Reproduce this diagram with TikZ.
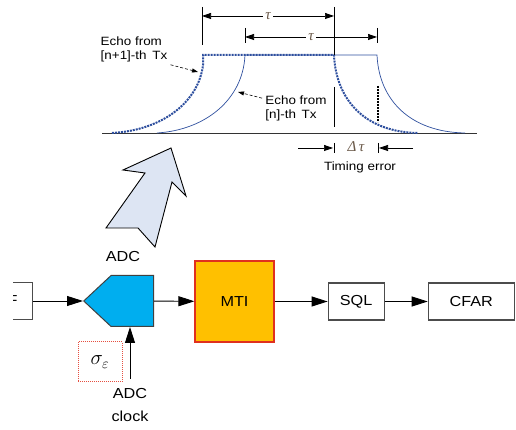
\documentclass[tikz,border=0pt]{standalone}
\usepackage{fontspec}
\setmainfont{Liberation Sans}[FakeStretch=1.12]
\newfontfamily\greekfont{Liberation Serif}
\usetikzlibrary{positioning,shapes.symbols,arrows.meta,calc}

\definecolor{adcblue}{HTML}{00AEEF}
\definecolor{mtifill}{HTML}{FFC000}
\definecolor{mtiline}{HTML}{E0301E}
\definecolor{echoblue}{HTML}{2E4F9E}
\definecolor{bigarrow}{HTML}{DDE5F3}
\definecolor{taucol}{HTML}{6B5A4A}

\begin{document}
\begin{tikzpicture}[
    x=1pt, y=1pt,
    font=\fontsize{14.5}{17}\selectfont,
    >={Triangle[length=16pt,width=10pt]},
    block/.style    = {rectangle, draw=black!70, line width=1.1pt,
                       minimum height=37pt, inner sep=2pt},
    adcbox/.style   = {signal, signal to=west, signal pointer angle=86,
                       draw=black!75, line width=1pt, fill=adcblue,
                       minimum width=70pt, minimum height=51pt, inner sep=0pt},
    mtibox/.style   = {rectangle, draw=mtiline, line width=1.2pt, fill=mtifill,
                       minimum width=79pt, minimum height=81pt},
    noisebox/.style = {rectangle, draw=mtiline!85, dash pattern=on 1pt off 1pt,
                       line width=1pt, minimum width=44pt, minimum height=40pt},
    flow/.style     = {-{Triangle[length=16pt,width=10pt]}, line width=0.9pt},
    echo/.style     = {font=\fontsize{12}{14}\selectfont, align=left, inner sep=1pt},
    pointer/.style  = {-{Triangle[length=6pt,width=4pt]}, densely dashed, line width=0.6pt},
    dim/.style      = {{Triangle[length=9pt,width=6pt]}-{Triangle[length=9pt,width=6pt]},
                       line width=0.7pt},
    ext/.style      = {line width=0.8pt},
    tau/.style      = {fill=white, text=taucol, inner sep=2pt,
                       font=\greekfont\itshape\fontsize{15}{15}\selectfont},
    pulsenew/.style = {echoblue, line width=2pt, densely dotted},
    pulseold/.style = {echoblue, line width=0.7pt}
]
\useasboundingbox (0,0) rectangle (516,430);

% --- Timing picture ------------------------------------------------------------
\coordinate (axl) at (102,297);
\coordinate (axr) at (477,297);
\draw[black!80, line width=0.9pt] (axl) -- (axr);

% echo of the [n]-th pulse
\draw[pulseold] (157,297) .. controls (205,300) and (243,330) .. (245,375)
                -- (377,375) .. controls (379,330) and (410,298) .. (465,297);
% echo of the [n+1]-th pulse
\draw[pulsenew] (112,297) .. controls (165,300) and (199,330) .. (203,365)
                -- (203,375) -- (334,375) .. controls (336,330) and (365,298) .. (418,297);

% extension lines
\coordinate (e1t) at (202,423);  \coordinate (e1b) at (202,385);
\coordinate (e2t) at (334,423);  \coordinate (e2b) at (334,375);
\coordinate (e3t) at (245,402);  \coordinate (e3b) at (245,387);
\coordinate (e4t) at (377,402);  \coordinate (e4b) at (377,387);
\draw[ext] (e1t) -- (e1b);
\draw[ext] (e2t) -- (e2b);
\draw[ext] (e3t) -- (e3b);
\draw[ext] (e4t) -- (e4b);

\draw[dim] (202,414) -- node[tau]{τ} (334,414);
\draw[dim] (245,393) -- node[tau]{τ} (377,393);

% timing error marks
\coordinate (m1t) at (334,343);  \coordinate (m1b) at (334,303);
\coordinate (m2t) at (378,344);  \coordinate (m2b) at (378,308);
\draw[ext] (m1t) -- (m1b);
\draw[line width=1.6pt, dash pattern=on 0.6pt off 0.9pt] (m2t) -- (m2b);

\node[tau, fill=none] (dtau) at (356,283) {Δ\,τ};
\coordinate (dl) at (334,282);
\coordinate (dr) at (378,282);
\draw[ext] ($(dl)+(0,5)$) -- ($(dl)+(0,-5)$);
\draw[ext] ($(dr)+(0,5)$) -- ($(dr)+(0,-5)$);
\draw[->, >={Triangle[length=9pt,width=6pt]}, line width=0.7pt] (298,282) -- ($(dl)+(-1,0)$);
\draw[->, >={Triangle[length=9pt,width=6pt]}, line width=0.7pt] (413,282) -- ($(dr)+(1,0)$);
\node[echo, align=center] (terr) at (360,263) {Timing error};

% echo labels
\node[echo] (newlab) at (134,381) {Echo from\\{}[n+1]-th \,Tx};
\node[echo] (oldlab) at (296,322) {Echo from\\{}[n]-th \,Tx};
\draw[pointer] (newlab.south east) ++(2,-2) coordinate (np) -- (198,358);
\draw[pointer] (oldlab.north west) ++(-2,-4) coordinate (op) -- (238,338);

% --- Sampling arrow --------------------------------------------------------------
\draw[fill=bigarrow, line width=0.9pt]
  (171,282) -- (123,260) -- (145,257) -- (106,202) -- (138,202)
  -- (155,183) -- (172,248) -- (186,234) -- cycle;

% --- Receiver chain --------------------------------------------------------------
\begin{scope}
  \clip (13,100) rectangle (40,160);
  \node[block, anchor=east, inner xsep=15pt] (filt) at (33,129) {IF};
\end{scope}
\node[adcbox, anchor=west] (adc) at (83,129) {};
\node[mtibox] (mti) at (234.5,128.5) {MTI};
\node[block, minimum width=56pt, right=53pt of mti] (sql) {SQL};
\node[block, minimum width=86pt, right=43pt of sql] (cfar) {CFAR};

\node (adclab) at (123,173) {ADC};
\node[noisebox, font=\fontsize{20}{20}\selectfont] (noise) at (100,68) {$\sigma_{\varepsilon}$};

\coordinate (clk) at (130,51);
\node[below=9pt of clk, inner sep=0pt, align=center] (clock) {ADC\\[6pt]clock};

\draw[flow] (filt)  -- (adc.west);
\draw[flow] (adc)   -- (mti);
\draw[flow] (mti)   -- (sql);
\draw[flow] (sql)   -- (cfar);
\draw[flow] (clk)   -- (clk |- adc.south);

\end{tikzpicture}
\end{document}
